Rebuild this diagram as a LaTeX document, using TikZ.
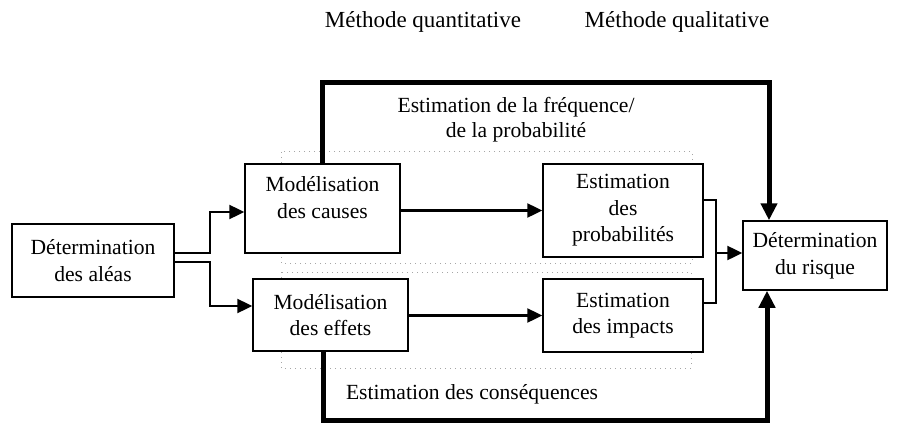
\documentclass[tikz,border=0pt]{standalone}
\usepackage{fontspec}
\setmainfont{Liberation Serif}
\usetikzlibrary{positioning,arrows.meta}

\begin{document}
\begin{tikzpicture}[x=0.5pt, y=-0.5pt, node distance=52.5pt, thick,
		main/.style = {draw, fill=white, line width=0.75pt, align=center, inner sep=0pt, font=\fontsize{10.8}{13.3}\selectfont},
		txt/.style = {align=center, inner sep=0pt, font=\fontsize{10.8}{12.5}\selectfont},
		head/.style = {inner sep=0pt, font=\fontsize{11.5}{13.5}\selectfont},
		arr/.style = {line width=1.2pt, -{Triangle[length=7.5pt, width=7pt]}},
		big/.style = {line width=2.5pt, -{Triangle[length=8.5pt, width=8pt]}},
		thin/.style = {line width=0.9pt},
		dotbox/.style = {gray!70, line width=0.5pt, dotted}]
		\useasboundingbox (0,0) rectangle (897,422);
		\draw[dotbox] (281,152) rectangle (692,263);
		\draw[dotbox] (281,272) rectangle (691,368);
		\node[main, minimum width=81pt, minimum height=36.5pt] (1) at (93,260.5) {Détermination\\des aléas};
		\node[main, minimum width=77.5pt, minimum height=44.5pt] (2) at (322.5,208.5) {Modélisation\\des causes\\[-2pt]\mbox{}};
		\node[main, minimum width=77.5pt, minimum height=36pt] (3) at (330.5,315) {Modélisation\\des effets};
		\node[main, minimum width=80pt, minimum height=46.5pt] (4) at (623,210.5) {Estimation\\des\\probabilités};
		\node[main, minimum width=80pt, minimum height=36.5pt] (5) [below of=4] {Estimation\\des impacts};
		\node[main, minimum width=72pt, minimum height=34.5pt] (6) at (815,255.5) {Détermination\\du risque};
		\node[head] (7) at (423,22) {Méthode quantitative};
		\node[head] (8) at (677,22) {Méthode qualitative};
		\node[txt] (9) at (516,120) {Estimation de la fréquence/\\de la probabilité};
		\node[txt] (10) at (472,394) {Estimation des conséquences};
		\coordinate (j) at (716,253);
		\draw[arr] ([yshift=3.75pt]1.east) -- ++(35,0) |- ([yshift=-1.75pt]2.west);
		\draw[arr] ([yshift=-0.75pt]1.east) -- ++(35,0) |- ([yshift=4.5pt]3.west);
		\draw[arr] (2.east |- 4.west) -- (4.west);
		\draw[arr] (3.east |- 5.west) -- (5.west);
		\draw[thin] ([yshift=5.25pt]4.east) -| (j);
		\draw[thin] ([yshift=6.25pt]5.east) -| (j);
		\draw[arr] (j) -- (j -| 6.west);
		\draw[big] (2.north) -- ++(0,-81) -| ([xshift=-23pt]6.north);
		\draw[big] ([xshift=-3.75pt]3.south) -- ++(0,69) -| ([xshift=-24pt]6.south);
	\end{tikzpicture}
\end{document}
